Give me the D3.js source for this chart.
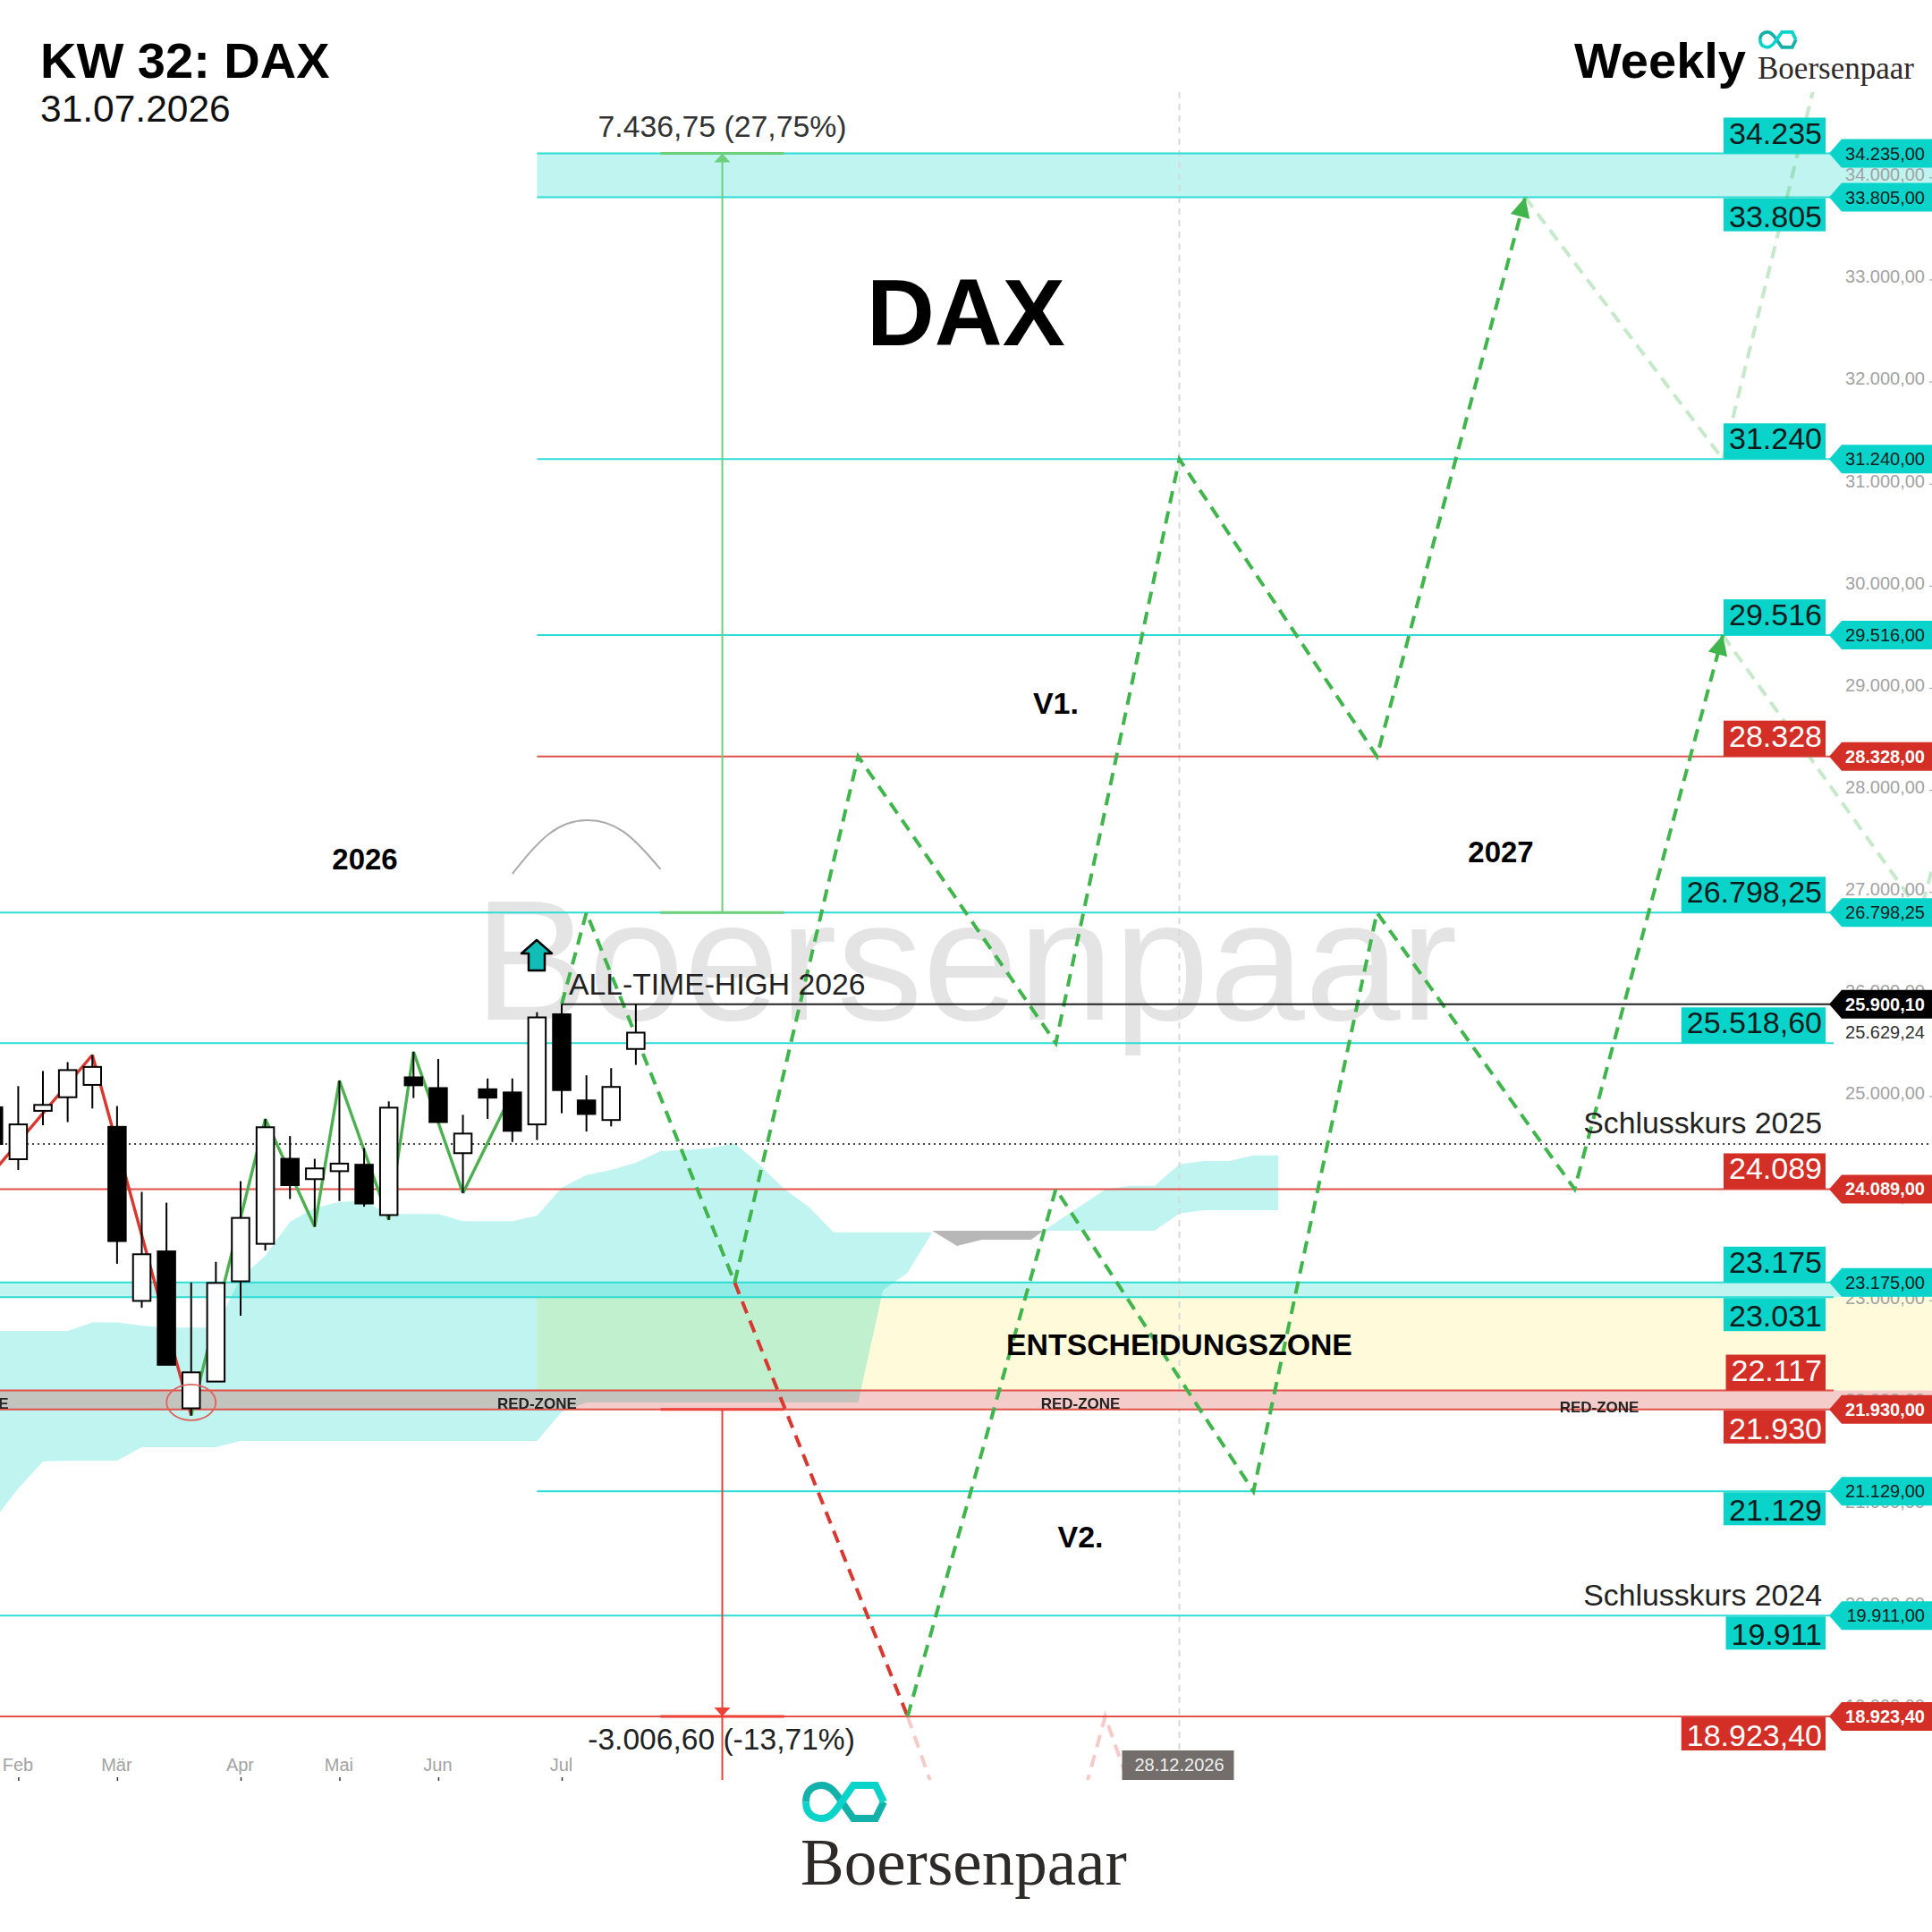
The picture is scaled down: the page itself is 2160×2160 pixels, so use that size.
<!DOCTYPE html>
<html>
<head>
<meta charset="utf-8">
<script src="https://cdn.jsdelivr.net/npm/d3@7"></script>
<style>
  html, body { margin: 0; background: #fff; }
  svg { display: block; }
  text { font-family: "Liberation Sans", Arial, sans-serif; }
</style>
</head>
<body>
<svg width="2160" height="2160"></svg>
<script>
// weekly candles, index 0 = first week of Feb 2026
const candleIdx = [-1, 0, 1, 2, 3, 4, 5, 6, 7, 8, 9, 10, 11, 12, 13, 14, 15, 16, 17, 18, 19, 20, 21, 22, 23, 24, 25];
const open  = [24891, 24382, 24856, 24989, 25110, 24699, 22994, 23479, 21942, 22204, 23186, 23553, 24386, 24187, 24265, 24328, 23835, 25184, 25079, 24441, 25067, 25036, 24723, 25802, 24958, 24766, 25462];
const high  = [25020, 25098, 25247, 25333, 25403, 24903, 24062, 23956, 23174, 23377, 24167, 24777, 24609, 24386, 25153, 24492, 24949, 25435, 25364, 24817, 25173, 25173, 25822, 25900, 25204, 25274, 25900];
const low   = [24472, 24277, 24715, 24746, 24879, 23358, 22927, 22368, 21871, 22204, 22849, 23487, 23992, 23721, 23972, 23917, 23788, 24981, 24746, 24050, 24777, 24551, 24570, 24832, 24653, 24703, 25306];
const close = [24531, 24723, 24914, 25255, 25286, 23580, 23451, 22368, 22294, 23170, 23807, 24695, 24128, 24292, 24339, 23948, 24887, 25106, 24746, 24633, 24985, 24660, 25771, 25059, 24825, 25090, 25622];

// solid zigzag through the candles
const zigIdx   = [-2, 3, 7, 10, 12, 13, 15, 16, 18, 20];
const zigPrice = [23975, 25403, 21871, 24777, 23721, 25153, 23788, 25435, 24050, 25036];

// projected paths
const v1Idx   = [22, 23, 29, 34, 42, 47, 55, 61];
const v1Price = [25900.1, 26798.25, 23175, 28328, 25518.6, 31240, 28328, 33805];
const v1FadeIdx   = [61, 69, 75];
const v1FadePrice = [33805, 31240, 37165];
const v2RedIdx   = [29, 36];
const v2RedPrice = [23175, 18923.4];
const v2Idx   = [36, 42, 50, 55, 63, 69];
const v2Price = [18923.4, 24089, 21129, 26798.25, 24089, 29516];
const v2FadeIdx   = [69, 77, 80];
const v2FadePrice = [29516, 26798.25, 29516];
const pinkAIdx   = [36, 37];
const pinkAPrice = [18923.4, 18235];
const pinkBIdx   = [43, 44, 45];
const pinkBPrice = [18040, 18923.4, 18235];
const arcIdx   = [20, 21.5, 23, 24.5, 26];
const arcPrice = [27178, 27572, 27703, 27590, 27222];

// cloud
const cloudIdx = d3.range(-1, 38);
const cloudUpper = [22700, 22700, 22700, 22700, 22783, 22783, 22751, 22732, 22732, 22732, 23221, 23436, 23768, 23905, 23964, 23972, 23846, 23846, 23846, 23776, 23776, 23776, 23827, 24101, 24226, 24277, 24347, 24461, 24472, 24490, 24537, 24332, 24090, 23915, 23665, 23665, 23665, 23665, 23665];
const cloudLower = [20842, 21158, 21421, 21430, 21430, 21430, 21561, 21561, 21561, 21561, 21622, 21622, 21622, 21622, 21622, 21622, 21622, 21622, 21622, 21622, 21622, 21622, 21622, 21906, 21999, 21999, 21999, 21999, 21999, 21999, 21999, 21999, 21999, 21999, 21999, 21999, 23097, 23272, 23665];
const cloud2Idx   = [41.5, 44, 45, 46, 47, 48, 49, 50, 51];
const cloud2Upper = [23681, 24084, 24122, 24122, 24332, 24365, 24365, 24420, 24420];
const cloud2Lower = [23681, 23681, 23681, 23681, 23850, 23883, 23883, 23883, 23883];
const twistIdx   = [37, 38, 39, 41, 41.5];
const twistUpper = [23681, 23681, 23681, 23681, 23681];
const twistLower = [23681, 23532, 23594, 23594, 23681];

// levels
const fullLevels  = [26798.25, 25518.6, 23175, 23031, 19911];
const shortLevels = [34235, 33805, 31240, 29516, 21129];
const redFull     = [24089, 22117, 21930, 18923.4];
const redShort    = [28328];
const prevClose   = 24531;
const athPrice    = 25900.1;

const axisTicks = d3.range(19000, 34001, 1000);
const monthIdx  = [0, 4, 9, 13, 17, 22];
const monthLbl  = ["Feb", "Mär", "Apr", "Mai", "Jun", "Jul"];

const tagValues = [34235, 33805, 31240, 29516, 28328, 26798.25, 25900.1, 24089, 23175, 21930, 21129, 19911, 18923.4];
const tagKinds  = ["c", "c", "c", "c", "r", "c", "k", "r", "c", "r", "c", "c", "r"];

const boxTexts  = ["34.235", "33.805", "31.240", "29.516", "28.328", "26.798,25", "25.518,60", "24.089", "23.175", "23.031", "22.117", "21.930", "21.129", "19.911", "18.923,40"];
const boxPrices = [34235, 33805, 31240, 29516, 28328, 26798.25, 25518.6, 24089, 23175, 23031, 22117, 21930, 21129, 19911, 18923.4];
const boxKinds  = ["c", "c", "c", "c", "r", "c", "c", "r", "c", "c", "r", "r", "c", "c", "r"];
const boxBelow  = [false, true, false, false, false, false, false, false, false, true, false, true, true, true, true];

const cyan = "#0ad4ca", red = "#d32f27", lineCyan = "#2fdcd4", lineRed = "#e2504a", green = "#3fb54c";

const svg = d3.select("svg");
const x = d3.scaleLinear().domain([0, 47]).range([20.4, 1318.5]);
const y = d3.scaleLinear().domain([34235, 18923.4]).range([171.5, 1919]);
const rightEdge = 2160, plotTop = 103, plotBottom = 1990;
const ix = x(21); // drawings start here

svg.append("defs").append("clipPath").attr("id", "plot")
  .append("rect").attr("x", 0).attr("y", plotTop).attr("width", rightEdge).attr("height", plotBottom - plotTop);

// watermark
svg.append("text").attr("x", 530).attr("y", 1140).attr("font-size", 192).attr("fill", "#e4e4e4").text("Boersenpaar");

const plot = svg.append("g").attr("clip-path", "url(#plot)");

// cloud
const areaOf = (idx, up, lo) => d3.area().x(d => x(d)).y0((d, i) => y(lo[i])).y1((d, i) => y(up[i]))(idx);
plot.append("path").attr("d", areaOf(cloudIdx, cloudUpper, cloudLower)).attr("fill", "#c0f4f0");
plot.append("path").attr("d", areaOf(cloud2Idx, cloud2Upper, cloud2Lower)).attr("fill", "#c0f4f0");
plot.append("path").attr("d", areaOf(twistIdx, twistUpper, twistLower)).attr("fill", "#b7b7b7");

// zones
const zone = (x0, top, bottom, fill, opacity) => plot.append("rect")
  .attr("x", x0).attr("y", y(top)).attr("width", rightEdge - x0).attr("height", y(bottom) - y(top))
  .attr("fill", fill).attr("fill-opacity", opacity);
zone(ix, 34235, 33805, cyan, 0.26);
zone(ix, 23031, 22117, "#fffbda", 1).style("mix-blend-mode", "multiply");
zone(0, 23175, 23031, cyan, 0.26);
zone(0, 22117, 21930, red, 0.24);

// vertical marker at the date label
plot.append("line").attr("x1", x(47)).attr("x2", x(47)).attr("y1", plotTop).attr("y2", plotBottom)
  .attr("stroke", "#d9d9d9").attr("stroke-width", 2).attr("stroke-dasharray", "7 6");

// right axis
const deFormat = d3.formatLocale({ decimal: ",", thousands: ".", grouping: [3], currency: ["", ""] }).format(",.2f");
const axisR = svg.append("g").attr("transform", `translate(${rightEdge},0)`)
  .call(d3.axisLeft(y).tickValues(axisTicks).tickFormat(deFormat).tickSize(3).tickPadding(5));
axisR.select(".domain").remove();
axisR.selectAll("line").attr("stroke", "#999");
axisR.selectAll("text").attr("font-size", 20).attr("fill", "#a3a3a3").attr("font-family", "Liberation Sans").attr("y", -3);

// bottom axis
const axisB = svg.append("g").attr("transform", `translate(0,${plotBottom - 3})`)
  .call(d3.axisBottom(x).tickValues(monthIdx).tickFormat((d, i) => monthLbl[i]).tickSize(4));
axisB.select(".domain").remove();
axisB.selectAll("line").attr("stroke", "#333").attr("stroke-width", 1.5);
axisB.selectAll("text").attr("font-size", 20).attr("fill", "#a3a3a3").attr("font-family", "Liberation Sans")
  .attr("y", -13).attr("x", -1).attr("dy", "0.32em");

// level lines
const hLine = (price, x0, x1, color, width) => plot.append("line")
  .attr("x1", x0).attr("x2", x1).attr("y1", y(price)).attr("y2", y(price))
  .attr("stroke", color).attr("stroke-width", width);
fullLevels.forEach(p => hLine(p, 0, 2050, lineCyan, 2));
shortLevels.forEach(p => hLine(p, ix, 2050, lineCyan, 2));
redFull.forEach(p => hLine(p, 0, 2050, lineRed, 2));
redShort.forEach(p => hLine(p, ix, 2050, lineRed, 2));
hLine(prevClose, 0, rightEdge, "#444", 2).attr("stroke-dasharray", "2 4");

// measuring arrows
const measure = (topP, bottomP, tipP, color, endY) => {
  const xm = x(28.5);
  plot.append("line").attr("x1", xm).attr("x2", xm).attr("y1", y(topP)).attr("y2", endY == null ? y(bottomP) : endY)
    .attr("stroke", color).attr("stroke-width", 2);
  [topP, bottomP].forEach(p => hLine(p, x(26), x(31), color, 3));
  const up = tipP === topP ? 1 : -1;
  plot.append("path")
    .attr("d", `M${xm},${y(tipP)}l-9,${up * 10}h18z`).attr("fill", color);
};
measure(34235, 26798.25, 34235, "#6ccf7c");
measure(21930, 18923.4, 18923.4, "#ee4136", plotBottom);

// projection lines
const pathOf = (idx, price) => d3.line().x(d => x(d)).y((d, i) => y(price[i]))(idx);
const dashed = (idx, price, color, opacity) => plot.append("path").attr("d", pathOf(idx, price))
  .attr("fill", "none").attr("stroke", color).attr("stroke-width", 4).attr("stroke-dasharray", "14 9")
  .attr("stroke-opacity", opacity);
dashed(v1FadeIdx, v1FadePrice, green, 0.3);
dashed(v2FadeIdx, v2FadePrice, green, 0.3);
dashed(pinkAIdx, pinkAPrice, "#e2504a", 0.3);
dashed(pinkBIdx, pinkBPrice, "#e2504a", 0.3);
dashed(v2RedIdx, v2RedPrice, "#d8382f", 1);
dashed(v2Idx, v2Price, green, 1);
dashed(v1Idx, v1Price, green, 1);

// arrow heads on the two tops
const head = (i0, p0, i1, p1) => {
  const a = Math.atan2(y(p1) - y(p0), x(i1) - x(i0)) * 180 / Math.PI;
  plot.append("path").attr("d", "M0,0L-22,-11L-22,11z").attr("fill", green)
    .attr("transform", `translate(${x(i1)},${y(p1)}) rotate(${a})`);
};
head(55, 28328, 61, 33805);
head(63, 24089, 69, 29516);

// zigzag through price
zigIdx.slice(1).forEach((d, i) => {
  plot.append("line")
    .attr("x1", x(zigIdx[i])).attr("y1", y(zigPrice[i])).attr("x2", x(d)).attr("y2", y(zigPrice[i + 1]))
    .attr("stroke", i < 2 ? "#d8382f" : "#4caf50").attr("stroke-width", 3.4);
});

// all-time-high line
plot.append("line").attr("x1", x(22)).attr("x2", 2050).attr("y1", y(athPrice)).attr("y2", y(athPrice))
  .attr("stroke", "#222").attr("stroke-width", 2);

// candles
const bw = 19.5;
const candle = plot.append("g").selectAll("g").data(candleIdx).enter().append("g");
candle.append("line").attr("x1", d => x(d)).attr("x2", d => x(d))
  .attr("y1", (d, i) => y(high[i])).attr("y2", (d, i) => y(low[i]))
  .attr("stroke", "#000").attr("stroke-width", 2);
candle.append("rect").attr("x", d => x(d) - bw / 2).attr("width", bw)
  .attr("y", (d, i) => y(Math.max(open[i], close[i])))
  .attr("height", (d, i) => Math.max(2, Math.abs(y(open[i]) - y(close[i]))))
  .attr("fill", (d, i) => close[i] >= open[i] ? "#fff" : "#000")
  .attr("stroke", "#000").attr("stroke-width", 2);

// circle round the low
plot.append("ellipse").attr("cx", x(7)).attr("cy", y(22000)).attr("rx", 27.5).attr("ry", 20)
  .attr("fill", "none").attr("stroke", "#e0605a").attr("stroke-width", 1.8);

// arc above the top
plot.append("path")
  .attr("d", d3.line().curve(d3.curveNatural).x(d => x(d)).y((d, i) => y(arcPrice[i]))(arcIdx))
  .attr("fill", "none").attr("stroke", "#aaa").attr("stroke-width", 2);

// little up arrow
svg.append("path").attr("d", "M600,1051l17,15h-8v19h-18v-19h-8z")
  .attr("fill", "#12bdb8").attr("stroke", "#000").attr("stroke-width", 2.5).attr("stroke-linejoin", "round");

// red-zone texts
[[-2, 1575], [21, 1575], [43, 1575], [64, 1579]].forEach(([i, by]) => {
  plot.append("text").attr("x", x(i)).attr("y", by).attr("text-anchor", "middle")
    .attr("font-size", 17).attr("font-weight", "bold").attr("fill", "#222").text("RED-ZONE");
});

// price tags on the axis
const tagFill = { c: cyan, r: red, k: "#000" };
const tagText = { c: "#0c1f1f", r: "#fff", k: "#fff" };
const tags = svg.append("g").selectAll("g").data(tagValues).enter().append("g")
  .attr("transform", d => `translate(0,${y(d)})`);
tags.append("path").attr("d", `M2045,0l14,-16H${rightEdge}V16H2059z`).attr("fill", (d, i) => tagFill[tagKinds[i]]);
tags.append("text").attr("x", 2152).attr("y", 7).attr("text-anchor", "end").attr("font-size", 20)
  .attr("fill", (d, i) => tagText[tagKinds[i]]).attr("font-weight", (d, i) => tagKinds[i] === "c" ? "normal" : "bold")
  .text(d => deFormat(d));
svg.append("text").attr("x", 2152).attr("y", y(25629.24) + 7).attr("text-anchor", "end").attr("font-size", 20)
  .attr("fill", "#333").text(deFormat(25629.24));

// big level labels
boxTexts.forEach((t, i) => {
  const g = svg.append("g");
  const h = boxBelow[i] ? 37 : 40;
  const top = boxBelow[i] ? y(boxPrices[i]) + 1 : y(boxPrices[i]) - 40;
  const rect = g.append("rect").attr("y", top).attr("height", h).attr("fill", boxKinds[i] === "c" ? cyan : red);
  const label = g.append("text").attr("x", 2037).attr("y", top + h - (boxBelow[i] ? 5 : 11))
    .attr("text-anchor", "end").attr("font-size", 34).attr("fill", boxKinds[i] === "c" ? "#0b1a1a" : "#fff").text(t);
  const w = label.node().getComputedTextLength();
  rect.attr("x", 2037 - w - 6).attr("width", w + 10);
});

// date label
const dateBox = svg.append("g");
dateBox.append("rect").attr("x", 1254.5).attr("y", 1957).attr("width", 125).attr("height", 33).attr("fill", "#736e6c");
dateBox.append("text").attr("x", x(47)).attr("y", 1980).attr("text-anchor", "middle").attr("font-size", 20)
  .attr("fill", "#eee").text("28.12.2026");

// texts
const label = (t, xp, yp, size, opts = {}) => svg.append("text").attr("x", xp).attr("y", yp).attr("font-size", size)
  .attr("font-weight", opts.bold ? "bold" : "normal").attr("text-anchor", opts.anchor || "start")
  .attr("fill", opts.fill || "#000").style("font-family", opts.family || null).text(t);
label("KW 32: DAX", 45, 87, 56, { bold: true });
label("31.07.2026", 45, 136, 42.5, { fill: "#111" });
label("Weekly", 1760, 87, 56, { bold: true });
label("DAX", 969, 386, 105, { bold: true });
label("7.436,75 (27,75%)", x(28.5), 153, 33.8, { anchor: "middle", fill: "#333" });
label("-3.006,60 (-13,71%)", x(28.5) - 1, 1956, 33.6, { anchor: "middle", fill: "#222" });
label("2026", 408, 972, 33, { bold: true, anchor: "middle" });
label("2027", 1678, 964, 33, { bold: true, anchor: "middle" });
label("V1.", x(42), 798, 34, { bold: true, anchor: "middle" });
label("V2.", x(43), 1730, 34, { bold: true, anchor: "middle" });
label("ALL-TIME-HIGH 2026", 636, 1112, 33.7, { fill: "#222" });
label("ENTSCHEIDUNGSZONE", x(47), 1515, 33.8, { bold: true, anchor: "middle" });
label("Schlusskurs 2025", 2037, 1267, 33.8, { anchor: "end", fill: "#222" });
label("Schlusskurs 2024", 2037, 1795, 33.8, { anchor: "end", fill: "#222" });

// logos
const logo = (tx, ty, k) => {
  const g = svg.append("g").attr("transform", `translate(${tx},${ty}) scale(${k})`).attr("fill", "none").attr("stroke-width", 8);
  g.append("path").attr("d", "M4,22.5C4,8 14,4 22,4C30,4 36,10 44,22.5L57,41H82L91,22.5").attr("stroke", "#14b1ab");
  g.append("path").attr("d", "M4,22.5C4,37 14,41 22,41C30,41 36,35 44,22.5L57,4H82L91,22.5").attr("stroke", cyan);
};
logo(897, 1992, 1);
logo(1966, 34, 0.46);
label("Boersenpaar", 895, 2107, 73, { family: '"Liberation Serif", serif', fill: "#2f2a2a" });
label("Boersenpaar", 1965, 88, 35, { family: '"Liberation Serif", serif', fill: "#2f2a2a" });
</script>
</body>
</html>
